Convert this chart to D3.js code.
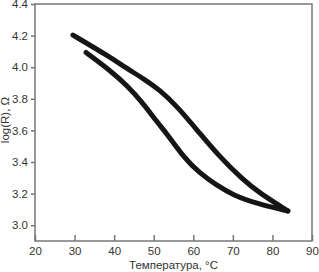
<!DOCTYPE html>
<html><head><meta charset="utf-8">
<script src="https://cdn.jsdelivr.net/npm/d3@7"></script>
<style>body{margin:0;background:#fff}svg{display:block}</style>
</head><body>
<script>
const xTicks = [20,30,40,50,60,70,80,90];
const yTicks = [3.0,3.2,3.4,3.6,3.8,4.0,4.2,4.4];
const upperT = [29.6, 38.9, 43.2, 47.4, 51.6, 55.8, 61.7, 65.9, 72.6, 76.9, 83.9];
const upperR = [4.203, 4.065, 3.992, 3.928, 3.854, 3.755, 3.580, 3.454, 3.285, 3.201, 3.09];
const lowerT = [32.9, 38.9, 43.2, 47.4, 50.8, 53.3, 57.5, 61.7, 65.9, 70.1, 76.0, 83.9];
const lowerR = [4.093, 3.981, 3.886, 3.770, 3.654, 3.580, 3.432, 3.327, 3.253, 3.190, 3.137, 3.09];

const W = 319, H = 272;
const svg = d3.select("body").append("svg").attr("width", W).attr("height", H);
const x = d3.scaleLinear().domain([20, 90]).range([35, 312]);
const y = d3.scaleLinear().domain([2.9, 4.4]).range([241, 4]);
const font = "Liberation Sans, Arial, sans-serif";
const axisCol = "#777";

svg.append("rect").attr("x", 35).attr("y", 4).attr("width", 277).attr("height", 237)
  .attr("fill", "none").attr("stroke", axisCol).attr("stroke-width", 1.5);

const gx = svg.append("g").attr("transform", "translate(0,241)")
  .call(d3.axisBottom(x).tickValues(xTicks).tickSizeInner(-6).tickSizeOuter(0).tickPadding(6));
gx.select(".domain").remove();
gx.selectAll("line").attr("stroke", axisCol).attr("stroke-width", 1.5);
gx.selectAll("text").attr("font-family", font).attr("font-size", 11.5).attr("fill", "#333");

const gy = svg.append("g").attr("transform", "translate(35,0)")
  .call(d3.axisLeft(y).tickValues(yTicks).tickSize(4).tickPadding(3).tickFormat(d3.format(".1f")));
gy.select(".domain").remove();
gy.selectAll("line").attr("stroke", axisCol).attr("stroke-width", 1.5);
gy.selectAll("text").attr("font-family", font).attr("font-size", 11.5).attr("fill", "#333");

const line = d3.line().x(d => x(d[0])).y(d => y(d[1])).curve(d3.curveBasis);
const up = upperT.map((t, i) => [t, upperR[i]]);
const lo = lowerT.map((t, i) => [t, lowerR[i]]);
[up, lo].forEach(pts => {
  svg.append("path").attr("d", line(pts)).attr("fill", "none")
    .attr("stroke", "#151515").attr("stroke-width", 5).attr("stroke-linecap", "round");
});

svg.append("text").attr("x", 173.5).attr("y", 269).attr("text-anchor", "middle")
  .attr("font-family", font).attr("font-size", 11.5).attr("fill", "#333").text("Температура, °C");
svg.append("text").attr("transform", "translate(9,120) rotate(-90)").attr("text-anchor", "middle")
  .attr("font-family", font).attr("font-size", 11.5).attr("fill", "#333").text("log(R), Ω");
</script>
</body></html>
